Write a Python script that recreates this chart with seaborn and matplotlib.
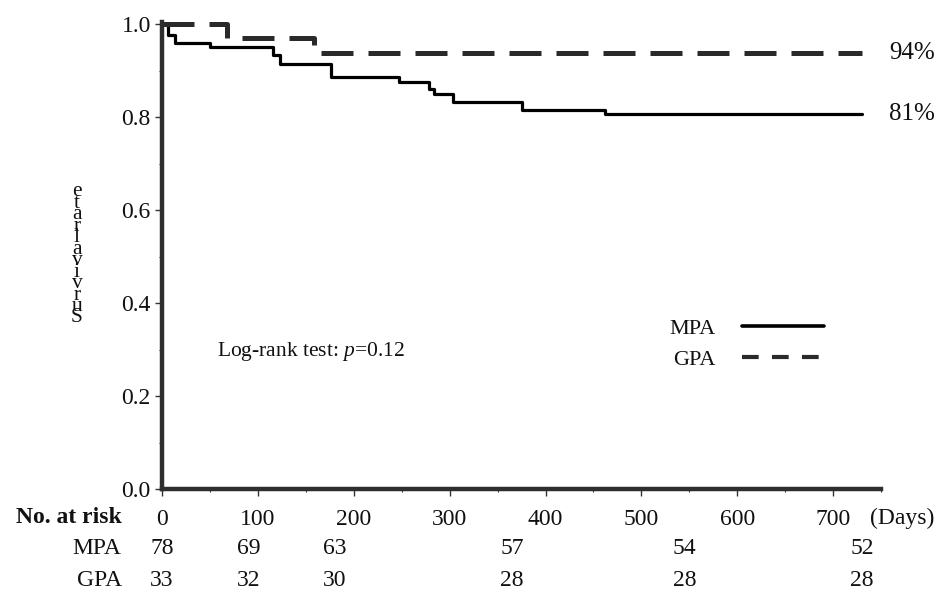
import matplotlib
matplotlib.use("Agg")
import matplotlib.pyplot as plt
import seaborn as sns
import pandas as pd
from matplotlib.lines import Line2D
from matplotlib.ticker import MultipleLocator

# ---- data ----
mpa_days = [0, 6, 14, 50, 116, 123, 176, 247, 279, 284, 303, 375, 462, 730]
mpa_surv = [1.0, 0.976, 0.960, 0.951, 0.934, 0.915, 0.886, 0.876, 0.860, 0.849, 0.833, 0.816, 0.806, 0.806]
gpa_days = [0, 68, 159, 730]
gpa_surv = [1.0, 0.970, 0.939, 0.939]

risk_days = [0, 90, 180, 365, 545, 730]
risk_mpa = [78, 69, 63, 57, 54, 52]
risk_gpa = [33, 32, 30, 28, 28, 28]

x_ticks = [0, 100, 200, 300, 400, 500, 600, 700]
y_ticks = [0.0, 0.2, 0.4, 0.6, 0.8, 1.0]
final_labels = ["81%", "94%"]
groups = ["MPA", "GPA"]
ylabel = "Survival rate"

sns.set_style("ticks")
plt.rcParams["font.family"] = ["Liberation Serif", "DejaVu Serif"]
plt.rcParams["mathtext.fontset"] = "custom"
plt.rcParams["mathtext.it"] = "Liberation Serif:italic"
plt.rcParams["mathtext.rm"] = "Liberation Serif"

fig = plt.figure(figsize=(9.5, 5.92), dpi=100)
ax = fig.add_axes([0.1705, 0.174, 0.757, 0.789])

df_m = pd.DataFrame({"day": mpa_days, "surv": mpa_surv})
df_g = pd.DataFrame({"day": gpa_days, "surv": gpa_surv})

sns.lineplot(data=df_m, x="day", y="surv", ax=ax, color="black", lw=2.3,
             drawstyle="steps-post", estimator=None, sort=False)
sns.lineplot(data=df_g, x="day", y="surv", ax=ax, color="#2a2a2a", lw=3.6,
             drawstyle="steps-post", estimator=None, sort=False)
lines = ax.get_lines()
lines[1].set_dashes((6.4, 3.0))
lines[1].set_dash_capstyle("butt")
for ln in lines:
    ln.set_clip_on(False)

ax.set_xlim(0, 750)
ax.set_ylim(0, 1.005)
ax.set_xticks(x_ticks)
ax.set_yticks(y_ticks)
ax.set_yticklabels([f"{v:.1f}" for v in y_ticks])
ax.yaxis.set_minor_locator(MultipleLocator(0.1))
ax.xaxis.set_minor_locator(MultipleLocator(50))
ax.set_xlabel("")
ax.set_ylabel("")

for s in ["top", "right"]:
    ax.spines[s].set_visible(False)
for s in ["left", "bottom"]:
    ax.spines[s].set_color("#2e2e2e")
    ax.spines[s].set_linewidth(3.2)

ax.tick_params(axis="both", which="major", labelsize=17, length=5, width=1.0,
               color="#333333", labelcolor="#111111")
ax.tick_params(axis="x", which="major", pad=9.5)
ax.tick_params(axis="y", which="major", pad=3)
ax.tick_params(axis="both", which="minor", length=2.5, width=0.8, color="#333333")

# final percentages
ax.text(758, mpa_surv[-1], final_labels[0], fontsize=18, ha="left", va="center",
        color="#111111")
ax.text(758, gpa_surv[-1], final_labels[1], fontsize=18, ha="left", va="center",
        color="#111111")

# log-rank annotation
ax.text(57, 0.295, r"Log-rank test: $p$=0.12", fontsize=15.5, ha="left", va="center",
        color="#111111")

# legend (label first, line after)
handles = [Line2D([], [], color="black", lw=2.6),
           Line2D([], [], color="#2a2a2a", lw=3.0, dashes=(4.0, 3.2))]
leg = ax.legend(handles, groups, markerfirst=False, frameon=False, fontsize=16,
                loc="center left", bbox_to_anchor=(0.705, 0.31),
                borderpad=0, borderaxespad=0, handlelength=3.7,
                handletextpad=1.2, labelspacing=0.45)
for t in leg.get_texts():
    t.set_color("#111111")

# number at risk table
xt = ax.get_xaxis_transform()
row_tick = -0.062
row_m = -0.128
row_g = -0.196
ax.text(-0.056, row_tick, "No. at risk", transform=ax.transAxes, ha="right",
        va="center", fontsize=17, fontweight="bold", color="#111111")
ax.text(-0.056, row_m, groups[0], transform=ax.transAxes, ha="right",
        va="center", fontsize=17, color="#111111")
ax.text(-0.056, row_g, groups[1], transform=ax.transAxes, ha="right",
        va="center", fontsize=17, color="#111111")
for d, n in zip(risk_days, risk_mpa):
    ax.text(d, row_m, str(n), transform=xt, ha="center", va="center",
            fontsize=17, color="#111111")
for d, n in zip(risk_days, risk_gpa):
    ax.text(d, row_g, str(n), transform=xt, ha="center", va="center",
            fontsize=17, color="#111111")
ax.text(0.985, row_tick, "(Days)", transform=ax.transAxes, ha="left",
        va="center", fontsize=17, color="#111111")

# stacked vertical y label (letters upright, bottom to top)
chars = [c for c in ylabel if c != " "]
y0, y1 = 318, 192
step = (y0 - y1) / (len(chars) - 1)
for i, c in enumerate(chars):
    fig.text(77 / 950, 1 - (y0 - i * step) / 592, c, ha="center", va="center",
             fontsize=15.5, color="#111111")

fig.savefig("out.png", dpi=100)
